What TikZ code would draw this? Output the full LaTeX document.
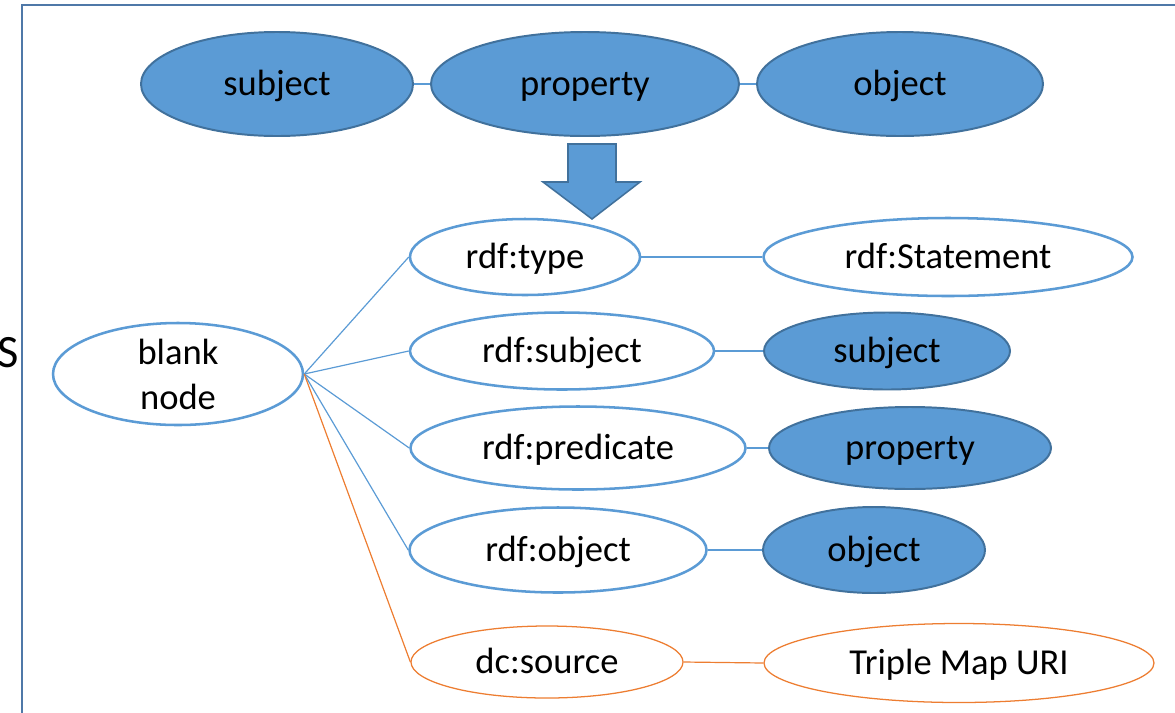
\documentclass[tikz,border=0pt]{standalone}
\usepackage{fontspec}
\setmainfont{Carlito}
\usetikzlibrary{shapes.geometric}
\definecolor{lblue}{HTML}{5B9BD5}
\definecolor{dblue}{HTML}{41719C}
\definecolor{frameblue}{HTML}{4F78A8}
\definecolor{orng}{HTML}{ED7D31}

\begin{document}
\begin{tikzpicture}[x=.25mm,y=-.25mm,
	every node/.style={font=\fontsize{26}{32}\selectfont},
	word/.style={text height=23pt,text depth=6pt},
	full/.style={ellipse,word,draw=dblue,line width=1.4pt,fill=lblue,inner sep=0pt},
	empty/.style={ellipse,word,draw=lblue,line width=1.8pt,fill=white,inner sep=0pt},
	source/.style={ellipse,word,draw=orng,line width=.9pt,fill=white,inner sep=0pt},
	link/.style={draw=lblue,line width=.85pt},
	olink/.style={draw=orng,line width=.85pt}]
	\useasboundingbox (0,0) rectangle (1175,712);
	\draw [frameblue,line width=1.5pt] (22,720) -- (22,5) -- (1185,5);
	\node [anchor=base east,inner sep=0pt,font=\fontsize{33}{40}\selectfont] (s) at (19.5,367) {S};

	\node [full,minimum width=68mm,minimum height=26mm] (subjTop) at (277,84) {subject};
	\node [full,minimum width=77mm,minimum height=26mm] (propTop) at (585,84) {property};
	\node [full,minimum width=71.5mm,minimum height=26mm] (objTop) at (900,84) {object};
	\draw [link] (subjTop.east) -- (propTop.west);
	\draw [link] (propTop.east) -- (objTop.west);

	\draw [fill=lblue,draw=dblue,line width=1.1pt] (568,144) -- (616,144) -- (616,182)
		-- (640,182) -- (592,219) -- (543,182) -- (568,182) -- cycle;

	\node [empty,text height=,text depth=,align=center,minimum width=62.5mm,minimum height=25.5mm] (blank) at (178,374) {blank\\node};
	\node [empty,minimum width=57.5mm,minimum height=19mm] (type) at (525,257) {rdf:type};
	\node [empty,minimum width=76mm,minimum height=19.25mm] (subj) at (562,351) {rdf:subject};
	\node [empty,minimum width=83.75mm,minimum height=20.75mm] (pred) at (578,448) {rdf:predicate};
	\node [empty,minimum width=74.25mm,minimum height=21.25mm] (obj) at (558,550) {rdf:object};
	\node [source,minimum width=68mm,minimum height=18mm] (src) at (547,662) {dc:source};

	\node [empty,minimum width=92.25mm,minimum height=19.5mm] (stmt) at (948,257) {rdf:Statement};
	\node [full,minimum width=61.5mm,minimum height=19.25mm] (subjR) at (887,351) {subject};
	\node [full,minimum width=70.5mm,minimum height=20.5mm] (propR) at (910,448) {property};
	\node [full,minimum width=55.5mm,minimum height=21.5mm] (objR) at (874,550) {object};
	\node [source,minimum width=97.5mm,minimum height=19.75mm] (uri) at (959,663) {Triple Map URI};

	\draw [link] (blank.east) -- (type.west);
	\draw [link] (blank.east) -- (subj.west);
	\draw [link] (blank.east) -- (pred.west);
	\draw [link] (blank.east) -- (obj.west);
	\draw [olink] (blank.east) -- (src.west);

	\draw [link] (type.east) -- (stmt.west);
	\draw [link] (subj.east) -- (subjR.west);
	\draw [link] (pred.east) -- (propR.west);
	\draw [link] (obj.east) -- (objR.west);
	\draw [olink] (src.east) -- (uri.west);
\end{tikzpicture}
\end{document}
